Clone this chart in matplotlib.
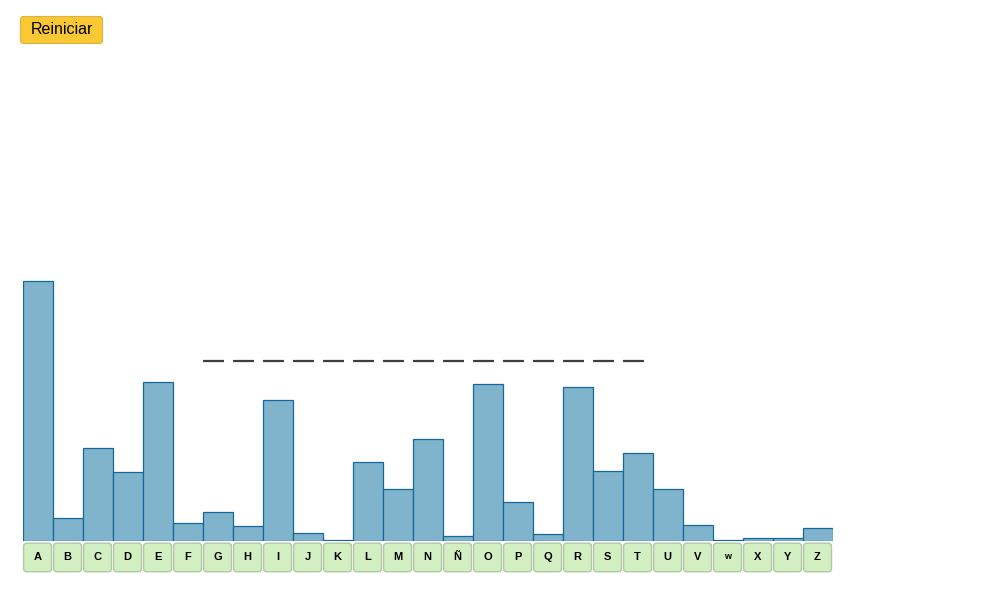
import matplotlib
matplotlib.use("Agg")
import matplotlib.pyplot as plt
from matplotlib.patches import FancyBboxPatch

plt.rcParams['lines.scale_dashes'] = False

letters = ["A", "B", "C", "D", "E", "F", "G", "H", "I", "J", "K", "L", "M", "N",
           "Ñ", "O", "P", "Q", "R", "S", "T", "U", "V", "w", "X", "Y", "Z"]
values = [26.0, 2.3, 9.3, 6.9, 15.9, 1.8, 2.9, 1.5, 14.1, 0.8, 0.1, 7.9, 5.2, 10.2,
          0.5, 15.7, 3.9, 0.7, 15.4, 7.0, 8.8, 5.2, 1.6, 0.05, 0.27, 0.25, 1.3]
line_level = 18.0
blank_letters = ["G", "H", "I", "J", "K", "L", "M", "N", "Ñ", "O", "P", "Q", "R", "S", "T"]
button_text = "Reiniciar"

fig = plt.figure(figsize=(10, 6), dpi=100)
fig.patch.set_facecolor("white")

# axes: x from px 23 to 833, baseline at px 540.7 from top, 10 px per unit
ax = fig.add_axes([0.023, 59.3 / 600, 0.81, 0.5])
ax.set_xlim(-0.5, len(letters) - 0.5)
ax.set_ylim(0, 30)
ax.axis("off")

xs = list(range(len(letters)))
ax.bar(xs, values, width=1.0, color="#80b3cc", edgecolor="#16679a",
       linewidth=0.9, align="center", zorder=2)

# dashed blanks
bx = [letters.index(l) for l in blank_letters]
ax.hlines([line_level] * len(bx), [b - 0.5 for b in bx], [b + 0.2 for b in bx],
          colors="#3d413d", linewidth=1.6, zorder=3)

# letter buttons below the bars
for i, lab in enumerate(letters):
    box = FancyBboxPatch((i - 0.5 + 0.02, -3.1), 0.93, 2.85,
                         boxstyle="round,pad=0,rounding_size=0.1",
                         mutation_aspect=3,
                         facecolor="#d2efc2", edgecolor="#b2c7a6", linewidth=1.0,
                         clip_on=False, zorder=2)
    ax.add_patch(box)
    fs = 6.5 if lab == "w" else 8
    ax.text(i - 0.5 + 0.485, -1.6, lab, ha="center", va="center",
            fontsize=fs, fontweight="bold", family="Liberation Sans",
            color="black", clip_on=False, zorder=3)

# Reiniciar button (figure pixel coords)
fig_ax = fig.add_axes([0, 0, 1, 1], zorder=-1)
fig_ax.set_xlim(0, 1000)
fig_ax.set_ylim(600, 0)
fig_ax.axis("off")
btn = FancyBboxPatch((20.5, 16.5), 82, 27, boxstyle="round,pad=0,rounding_size=3",
                     facecolor="#fac832", edgecolor="#d9b34a", linewidth=0.8)
fig_ax.add_patch(btn)
fig_ax.text(61.5, 30, button_text, ha="center", va="center", fontsize=11.5,
            family="Liberation Sans", color="black")

fig.savefig("out.png", dpi=100, facecolor="white")
